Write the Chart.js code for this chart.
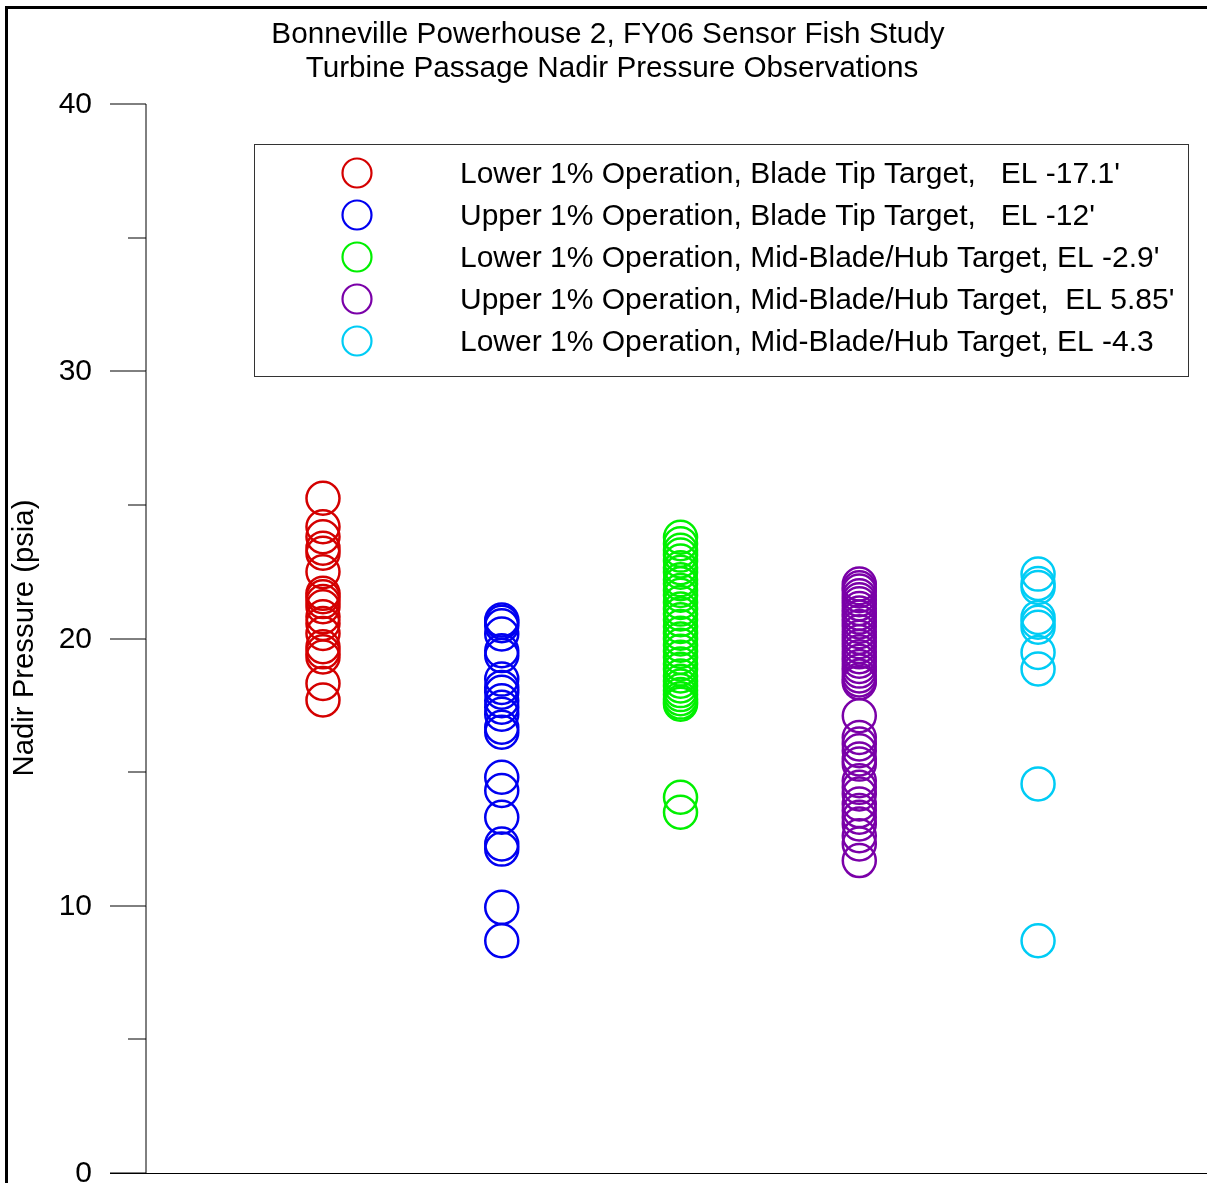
<!DOCTYPE html>
<html>
<head>
<meta charset="utf-8">
<script src="https://cdn.jsdelivr.net/npm/chart.js@4/dist/chart.umd.min.js"></script>
<style>
html,body{margin:0;padding:0;background:#fff;overflow:hidden;}
canvas{display:block;}
</style>
</head>
<body>
<canvas id="c" width="1226" height="1192"></canvas>
<script>
const titleLines = ["Bonneville Powerhouse 2, FY06 Sensor Fish Study", "Turbine Passage Nadir Pressure Observations"];
const yAxisTitle = "Nadir Pressure (psia)";
const seriesNames = [
  "Lower 1% Operation, Blade Tip Target,   EL -17.1'",
  "Upper 1% Operation, Blade Tip Target,   EL -12'",
  "Lower 1% Operation, Mid-Blade/Hub Target, EL -2.9'",
  "Upper 1% Operation, Mid-Blade/Hub Target,  EL 5.85'",
  "Lower 1% Operation, Mid-Blade/Hub Target, EL -4.3"
];
const seriesX = [1, 2, 3, 4, 5];
const seriesColors = ["#d40000", "#0000f0", "#00f000", "#7a00a8", "#00ccf5"];

const lowerTipValues = [25.25, 24.18, 23.81, 23.38, 23.19, 22.50, 21.69, 21.56, 21.38, 21.19, 20.81, 20.56, 20.19, 19.69, 19.50, 19.31, 18.32, 17.70];
const upperTipValues = [20.69, 20.61, 20.48, 20.17, 19.54, 19.36, 18.48, 18.17, 17.99, 17.67, 17.43, 17.17, 16.68, 16.49, 14.81, 14.31, 13.31, 12.31, 12.12, 9.94, 8.69];
const lowerHubValues = [23.79, 23.55, 23.30, 23.12, 22.90, 22.65, 22.48, 22.20, 22.05, 21.80, 21.62, 21.35, 21.10, 20.92, 20.70, 20.45, 20.20, 19.98, 19.75, 19.52, 19.30, 19.05, 18.85, 18.60, 18.40, 18.22, 18.05, 17.90, 17.75, 17.62, 17.54, 14.06, 13.50];
const upperHubValues = [22.04, 21.90, 21.78, 21.60, 21.45, 21.30, 21.12, 20.95, 20.80, 20.62, 20.45, 20.25, 20.05, 19.88, 19.70, 19.50, 19.32, 19.15, 18.95, 18.78, 18.60, 18.45, 18.35, 17.11, 16.30, 16.05, 15.80, 15.49, 15.30, 14.68, 14.43, 14.18, 13.81, 13.56, 13.31, 13.06, 12.62, 12.31, 11.69];
const lowerHub2Values = [22.41, 22.06, 21.91, 20.79, 20.61, 20.42, 19.48, 18.86, 14.56, 8.69];

const allValues = [lowerTipValues, upperTipValues, lowerHubValues, upperHubValues, lowerHub2Values];
const yTickMajor = [0, 10, 20, 30, 40];
const yTickMinor = [5, 15, 25, 35];

const FONT = "'Liberation Sans', Arial, sans-serif";

const datasets = allValues.map((vals, i) => ({
  label: seriesNames[i],
  data: vals.map(v => ({x: seriesX[i], y: v})),
  borderColor: seriesColors[i],
  backgroundColor: 'rgba(0,0,0,0)',
  pointRadius: 16.5,
  pointBorderWidth: 2.5,
  pointHoverRadius: 16.5,
  showLine: false
}));

const decor = {
  id: 'decor',
  beforeDatasetsDraw(chart) {
    const ctx = chart.ctx;
    const ys = chart.scales.y;
    const left = chart.chartArea.left;
    ctx.save();
    ctx.strokeStyle = '#000';
    ctx.lineWidth = 1;
    ctx.beginPath();
    ctx.moveTo(left, ys.getPixelForValue(40));
    ctx.lineTo(left, ys.getPixelForValue(0));
    ctx.stroke();
    ctx.fillStyle = '#000';
    ctx.font = '30px ' + FONT;
    ctx.textAlign = 'right';
    ctx.textBaseline = 'middle';
    yTickMajor.forEach(v => {
      const y = Math.round(ys.getPixelForValue(v));
      ctx.beginPath();
      ctx.moveTo(left - 36, y);
      ctx.lineTo(left, y);
      ctx.stroke();
      ctx.fillText(String(v), left - 54, y + 1);
    });
    yTickMinor.forEach(v => {
      const y = Math.round(ys.getPixelForValue(v));
      ctx.beginPath();
      ctx.moveTo(left - 18, y);
      ctx.lineTo(left, y);
      ctx.stroke();
    });
    const y0 = ys.getPixelForValue(0) + 0.5;
    ctx.beginPath();
    ctx.moveTo(left - 36, y0);
    ctx.lineTo(chart.width, y0);
    ctx.stroke();
    ctx.restore();
  },
  afterDraw(chart) {
    const ctx = chart.ctx;
    ctx.save();
    ctx.strokeStyle = '#000';
    ctx.lineWidth = 3;
    ctx.strokeRect(6.5, 7.5, 1300, 1300);
    ctx.fillStyle = '#000';
    ctx.font = '29.7px ' + FONT;
    ctx.textAlign = 'center';
    ctx.textBaseline = 'middle';
    ctx.fillText(titleLines[0], 608, 35);
    ctx.fillText(titleLines[1], 612, 69);
    ctx.save();
    ctx.translate(25, 638);
    ctx.rotate(-Math.PI / 2);
    ctx.font = '29.3px ' + FONT;
    ctx.fillText(yAxisTitle, 0, 0);
    ctx.restore();
    ctx.strokeStyle = '#333';
    ctx.lineWidth = 1;
    ctx.strokeRect(254.5, 144.5, 934, 232);
    ctx.textAlign = 'left';
    ctx.font = '30px ' + FONT;
    chart.data.datasets.forEach((ds, i) => {
      const y = 173 + i * 42;
      ctx.beginPath();
      ctx.arc(357, y, 14.5, 0, Math.PI * 2);
      ctx.strokeStyle = ds.borderColor;
      ctx.lineWidth = 2.2;
      ctx.stroke();
      ctx.fillStyle = '#000';
      ctx.fillText(ds.label, 460, y + 2);
    });
    ctx.restore();
  }
};

new Chart(document.getElementById('c'), {
  type: 'scatter',
  data: { datasets },
  options: {
    responsive: false,
    animation: false,
    events: [],
    layout: { padding: { left: 146, right: 0, top: 104, bottom: 0 } },
    plugins: { legend: { display: false }, tooltip: { enabled: false }, title: { display: false } },
    scales: {
      x: { type: 'linear', min: 0.01, max: 5.945, display: false },
      y: { type: 'linear', min: 0, max: 40, display: false }
    }
  },
  plugins: [decor]
});
</script>
</body>
</html>
